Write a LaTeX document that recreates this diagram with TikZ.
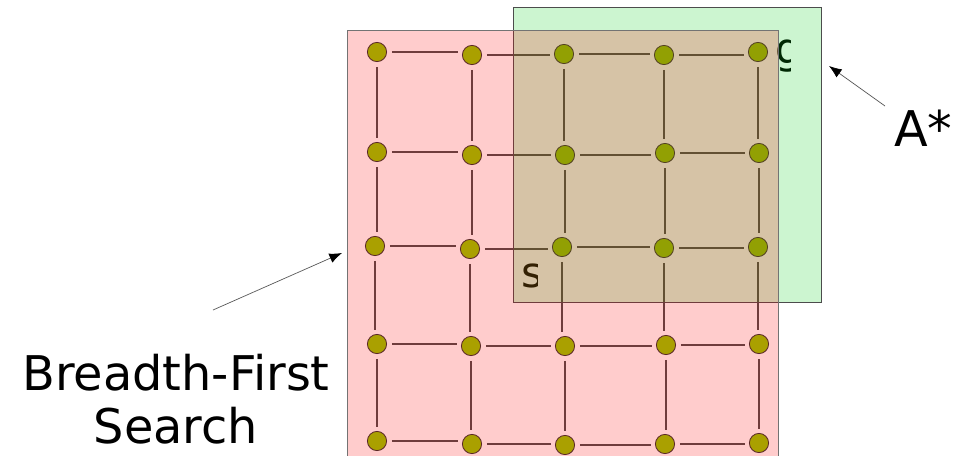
\documentclass[tikz,border=0pt]{standalone}
\usepackage{fontspec}
\setmainfont{DejaVu Sans}
\usepackage{tikz}
\usetikzlibrary{arrows.meta}

\definecolor{bfsred}{RGB}{255,0,0}
\definecolor{astargreen}{RGB}{0,204,20}
\definecolor{nodegreen}{RGB}{149,200,0}

\begin{document}
\begin{tikzpicture}[x=0.025cm,y=-0.025cm]
\useasboundingbox (0,0) rectangle (969,455);
\clip (0,0) rectangle (969,455);

\tikzstyle{vertex}=[draw=black!80,circle,fill=nodegreen,minimum size=0.48cm,inner sep=0pt,line width=0.6pt]
\tikzstyle{edge}=[black!70,line width=0.75pt,shorten >=0.36cm,shorten <=0.12cm]
\tikzstyle{letter}=[anchor=base west,inner sep=0pt,font=\fontsize{30}{34}\selectfont]

\foreach \n/\x/\y in {11/377/52,12/472/55,13/564/54,14/664/55,15/758/52,
                      21/377/152,22/472/155,23/565/155,24/665/153,25/759/153,
                      31/375/246,32/470/249,33/562/247,34/664/248,35/758/247,
                      41/377/344,42/471/346,43/565/346,44/666/345,45/759/344,
                      51/377/441,52/472/444,53/565/445,54/665/444,55/759/443}
  \node[vertex] (v\n) at (\x,\y) {};

% straight edges: run level from each node to the next one's centre line
\foreach \r in {1,...,5}
  \foreach \c/\d in {1/2,2/3,3/4,4/5}
    \draw[edge] (v\r\c) -- (v\r\c -| v\r\d);
\foreach \c in {1,...,5}
  \foreach \r/\s in {1/2,2/3,3/4,4/5}
    \draw[edge] (v\r\c) -- (v\r\c |- v\s\c);

% goal and start letters, cut off on the right
\begin{scope}
\clip (765,30) rectangle (790,85);
\node[letter] (goal) at (775,63) {g};
\end{scope}
\begin{scope}
\clip (512,250) rectangle (537,300);
\node[letter] (start) at (521,287) {s};
\end{scope}

% the two search regions, see-through, over the grid
\filldraw[fill=astargreen,fill opacity=0.2,draw=black!70,line width=0.7pt] (513,7) rectangle (821,302);
\filldraw[fill=bfsred,fill opacity=0.2,draw=black!55,line width=0.7pt] (347,30) rectangle (778,480);

% labels with their pointers
\node[align=center,inner sep=0pt,font=\fontsize{34}{37.7}\selectfont] (bfs) at (176,399) {Breadth-First\\Search};
\node[anchor=base west,inner sep=0pt,font=\fontsize{35}{40}\selectfont] (astar) at (894,146) {A*};

\coordinate (bfstail) at (213,310);
\coordinate (bfshead) at (342,253);
\coordinate (astartail) at (885,106);
\coordinate (astarhead) at (829,66);
\draw[-{Latex[length=9pt,width=7pt,color=black]},gray!70!black,line width=0.5pt] (bfstail) -- (bfshead);
\draw[-{Latex[length=9pt,width=7pt,color=black]},gray!70!black,line width=0.5pt] (astartail) -- (astarhead);
\end{tikzpicture}
\end{document}
